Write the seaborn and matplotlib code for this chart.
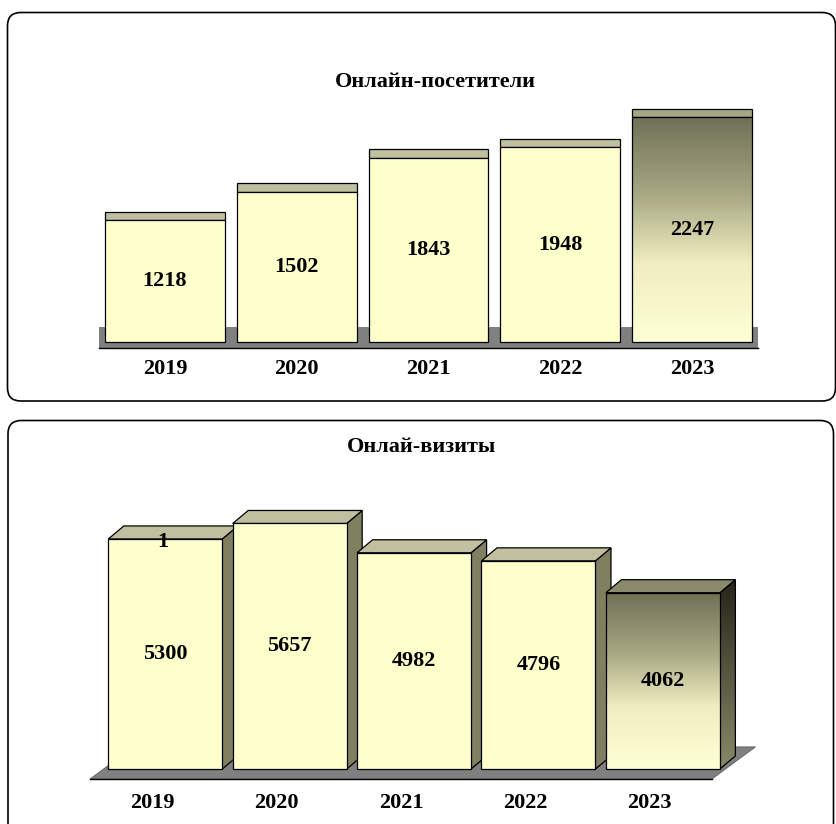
import numpy as np
import matplotlib
matplotlib.use("Agg")
import matplotlib.pyplot as plt
import seaborn as sns
from matplotlib.patches import Polygon, Rectangle, FancyBboxPatch
from matplotlib.colors import LinearSegmentedColormap

# ---------------- data ----------------
years = ["2019", "2020", "2021", "2022", "2023"]
visitors = [1218, 1502, 1843, 1948, 2247]
visits = [5300, 5657, 4982, 4796, 4062]
title_top = "Онлайн-посетители"
title_bottom = "Онлай-визиты"
stray_label = "1"   # odd extra label sitting on top of the 2019 visits bar

W, H = 836, 824
sns.set_style("white")
plt.rcParams["font.family"] = ["Liberation Serif", "DejaVu Serif"]
plt.rcParams["font.weight"] = "bold"
plt.rcParams["text.color"] = "black"
plt.rcParams["xtick.color"] = "black"
plt.rcParams["xtick.labelcolor"] = "black"

FRONT = "#FFFFCC"
TOP = "#C0C0A0"
SIDE = "#808060"
FLOOR = "#808080"
FS = 16

grad_front = LinearSegmentedColormap.from_list(
    "gf", [(0, "#FFFFD6"), (0.35, "#F0EEC0"), (0.65, "#A9A985"), (1, "#707056")])
grad_side = LinearSegmentedColormap.from_list("gs", ["#8A8A68", "#24241A"])
ramp = np.linspace(0, 1, 256).reshape(-1, 1)

fig = plt.figure(figsize=(W / 100, H / 100), dpi=100)


def px_axes(l, t, r, b):
    ax = fig.add_axes([l / W, 1 - b / H, (r - l) / W, (b - t) / H])
    ax.set_facecolor("none")
    return ax


def style_axis(ax, pad):
    sns.despine(ax=ax, left=True, top=True, right=True)
    ax.spines["bottom"].set_color("black")
    ax.spines["bottom"].set_linewidth(1.0)
    ax.spines["bottom"].set_zorder(30)
    ax.spines["bottom"].set_bounds(-0.5, len(years) - 0.5)
    ax.set_yticks([])
    ax.set_xticks(range(len(years)))
    ax.set_xticklabels(years, fontsize=FS, fontweight="bold", color="black")
    ax.set_xticks(np.arange(-0.5, len(years)), minor=True)
    ax.tick_params(axis="x", which="major", length=0, pad=pad)
    ax.tick_params(axis="x", which="minor", length=3, width=0.8, color="#404040", direction="out")
    ax.set_xlabel("")
    ax.set_ylabel("")


# panel frames
for (l, t, r, b) in [(7.5, 12.5, 835.5, 401), (8, 420.5, 833.5, 840)]:
    fig.patches.append(FancyBboxPatch(
        (l / W, 1 - b / H), (r - l) / W, (b - t) / H,
        boxstyle="round,pad=0,rounding_size=0.016",
        transform=fig.transFigure, fill=False, ec="black", lw=1.2))

# ---------------- top chart ----------------
ax1 = px_axes(99, 100, 758, 348)
sns.barplot(x=years, y=visitors, color=FRONT, saturation=1, width=0.91,
            edgecolor="black", linewidth=0.9, ax=ax1)
bars1 = list(ax1.patches)
cap1 = 85
ax1.add_patch(Rectangle((-0.5, -60), 5, 210, fc=FLOOR, ec="none", zorder=0.5))
for i, (p, v) in enumerate(zip(bars1, visitors)):
    x0, w = p.get_x(), p.get_width()
    p.set_zorder(3 + 2 * i)
    last = i == len(bars1) - 1
    ax1.add_patch(Rectangle((x0, v), w, cap1, fc="#A6A684" if last else TOP,
                            ec="black", lw=0.9, zorder=2 + 2 * i))
    if last:
        p.set_facecolor("none")
        im = ax1.imshow(ramp, cmap=grad_front, origin="lower", aspect="auto",
                        extent=(x0, x0 + w, 0, v), zorder=2.9 + 2 * i)
        im.set_clip_path(p)
    ax1.text(x0 + w / 2, v / 2, str(v), ha="center", va="center",
             fontsize=FS, fontweight="bold", zorder=40)
style_axis(ax1, pad=8)
ax1.set_xlim(-0.5, 4.5)
ax1.set_ylim(-60, 2420)

# ---------------- bottom chart ----------------
# axes reach past the last category so the 3D side faces are not clipped
ax2 = px_axes(90, 480, 770, 779)
xr = 4.5 + (770 - 712) / 124.4
sns.barplot(x=years, y=visits, color=FRONT, saturation=1, width=0.916,
            edgecolor="black", linewidth=0.9, ax=ax2)
bars2 = list(ax2.patches)
shift, dx, dy = 0.105, 0.125, 300
ax2.add_patch(Polygon([(-0.5, -230), (4.5, -230), (4.85, 510), (-0.15, 510)],
                      closed=True, fc=FLOOR, ec="#606060", lw=0.6, zorder=0.5))
for i, (p, v) in enumerate(zip(bars2, visits)):
    p.set_x(p.get_x() + shift)
    x0, w = p.get_x(), p.get_width()
    x1 = x0 + w
    p.set_zorder(3 + 2 * i)
    last = i == len(bars2) - 1
    side = Polygon([(x1, 0), (x1 + dx, dy), (x1 + dx, v + dy), (x1, v)], closed=True,
                   fc="none" if last else SIDE, ec="black", lw=0.9, zorder=2 + 2 * i)
    ax2.add_patch(side)
    ax2.add_patch(Polygon([(x0, v), (x0 + dx, v + dy), (x1 + dx, v + dy), (x1, v)],
                          closed=True, fc="#8A8A6C" if last else TOP, ec="black",
                          lw=0.9, zorder=2 + 2 * i))
    if last:
        p.set_facecolor("none")
        im = ax2.imshow(ramp, cmap=grad_front, origin="lower", aspect="auto",
                        extent=(x0, x1, 0, v), zorder=2.9 + 2 * i)
        im.set_clip_path(p)
        ims = ax2.imshow(ramp, cmap=grad_side, origin="lower", aspect="auto",
                         extent=(x1, x1 + dx, 0, v + dy), zorder=1.9 + 2 * i)
        ims.set_clip_path(side)
    ax2.text(x0 + w / 2, v / 2, str(v), ha="center", va="center",
             fontsize=FS, fontweight="bold", zorder=40)
ax2.text(bars2[0].get_x() + bars2[0].get_width() / 2 - 0.02, visits[0] - 60, stray_label,
         ha="center", va="center", fontsize=FS, fontweight="bold", zorder=40)
style_axis(ax2, pad=10)
ax2.set_xlim(-0.5, xr)
ax2.set_ylim(-230, 6659)

fig.text(435 / W, 1 - 82 / H, title_top, ha="center", va="center",
         fontsize=FS, fontweight="bold")
fig.text(421 / W, 1 - 447 / H, title_bottom, ha="center", va="center",
         fontsize=FS, fontweight="bold")

fig.savefig("out.png", dpi=100)
